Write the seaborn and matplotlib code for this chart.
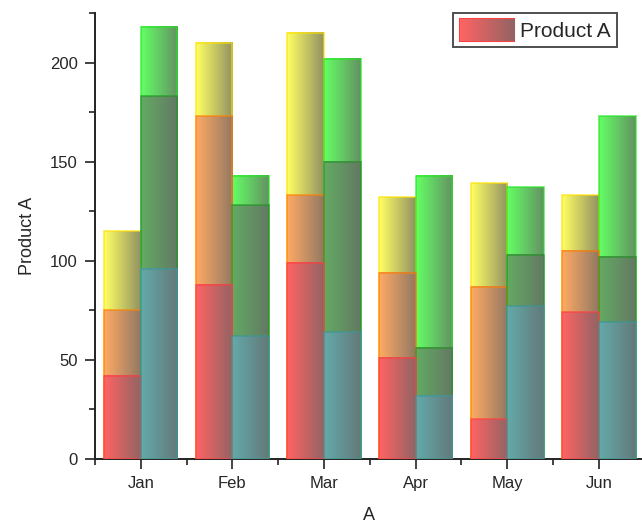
import numpy as np
import pandas as pd
import matplotlib
matplotlib.use("Agg")
import matplotlib.pyplot as plt
import seaborn as sns
from matplotlib.colors import to_rgb, to_rgba
from matplotlib.patches import Patch
from matplotlib.ticker import MultipleLocator, FixedLocator

# =============================
# DATA (segment heights, bottom -> top)
# =============================
months = ["Jan", "Feb", "Mar", "Apr", "May", "Jun"]

# left stack
red = [42, 88, 99, 51, 20, 74]
orange = [33, 85, 34, 43, 67, 31]
yellow = [40, 37, 82, 38, 52, 28]

# right stack
teal = [96, 62, 64, 32, 77, 69]
dark_green = [87, 66, 86, 24, 26, 33]
green = [35, 15, 52, 87, 34, 71]

# =============================
# STYLE
# =============================
sns.set_style("ticks")
plt.rcParams["font.family"] = ["Liberation Sans", "DejaVu Sans"]

# fill colour, edge colour for each layer
left_fill = ["#ff6464", "#ffaa64", "#ffff64"]
left_edge = ["#ff4040", "#ff8000", "#ffe000"]
right_fill = ["#64aaaa", "#64aa64", "#64ff64"]
right_edge = ["#3c9696", "#229622", "#22e622"]

GREY = np.array([0.39, 0.39, 0.39])


def gradient(color, n=64):
    c = np.array(to_rgb(color))
    t = np.linspace(0, 1, n)[:, None]
    return (c * (1 - 0.7 * t) + GREY * 0.7 * t)[None, :, :]


def shade(ax, bar, color, edge, z):
    x, y = bar.get_x(), bar.get_y()
    w, h = bar.get_width(), bar.get_height()
    ax.imshow(gradient(color), extent=[x, x + w, y, y + h], aspect="auto",
              interpolation="bilinear", zorder=z)
    bar.set_facecolor("none")
    bar.set_edgecolor(to_rgba(edge, 0.75))
    bar.set_linewidth(1.1)
    bar.set_zorder(z + 0.5)


fig = plt.figure(figsize=(6.42, 5.27), dpi=100)
W, H = 642, 527
ax = fig.add_axes([95 / W, 1 - 459 / H, (642 - 95) / W, (459 - 13) / H])

left_layers = [red, orange, yellow]
right_layers = [teal, dark_green, green]
left_cum = np.cumsum(left_layers, axis=0)
right_cum = np.cumsum(right_layers, axis=0)

# draw tallest (top) layer first so lower layers sit in front
for k in [2, 1, 0]:
    df = pd.DataFrame({
        "month": months * 2,
        "side": ["L"] * 6 + ["R"] * 6,
        "value": list(left_cum[k]) + list(right_cum[k]),
    })
    sns.barplot(data=df, x="month", y="value", hue="side", hue_order=["L", "R"],
                palette=[left_fill[k], right_fill[k]], width=0.8, saturation=1,
                errorbar=None, legend=False, ax=ax)
    z = 2 + 2 * (2 - k)
    for bar in ax.containers[-2]:
        shade(ax, bar, left_fill[k], left_edge[k], z)
    for bar in ax.containers[-1]:
        shade(ax, bar, right_fill[k], right_edge[k], z)

ax.set_xlim(-0.5, 5.47)
ax.set_ylim(0, 225)
ax.yaxis.set_major_locator(MultipleLocator(50))
ax.yaxis.set_minor_locator(MultipleLocator(25))
ax.xaxis.set_minor_locator(FixedLocator(np.arange(-0.5, 6, 1)))

sns.despine(ax=ax)
for s in ["left", "bottom"]:
    ax.spines[s].set_linewidth(1.4)
    ax.spines[s].set_color("#222222")

ax.tick_params(which="major", direction="out", length=7.5, width=1.2,
               labelsize=12, pad=5, color="#222222")
ax.tick_params(which="minor", direction="out", length=4, width=1.2, color="#222222")

ax.set_xlabel("A", fontsize=13, labelpad=11)
ax.set_ylabel("Product A", fontsize=13, labelpad=10)

# legend with gradient swatch
handle = Patch(facecolor=left_fill[0], edgecolor=left_edge[0], linewidth=1.5)
leg = ax.legend([handle], ["Product A"], loc="upper right",
                bbox_to_anchor=(617 / W, 1 - 13 / H), bbox_transform=fig.transFigure,
                borderaxespad=0, fancybox=False, fontsize=15, handlelength=2.6,
                handleheight=1.2, handletextpad=0.3, borderpad=0.3)
leg.get_frame().set_edgecolor("#222222")
leg.get_frame().set_linewidth(1.4)

fig.canvas.draw()
bb = leg.legend_handles[0].get_window_extent()
sw = fig.add_axes([bb.x0 / W, bb.y0 / H, bb.width / W, bb.height / H])
sw.imshow(gradient(left_fill[0]), aspect="auto", interpolation="bilinear")
sw.set_axis_off()

fig.savefig("out.png", dpi=100)
